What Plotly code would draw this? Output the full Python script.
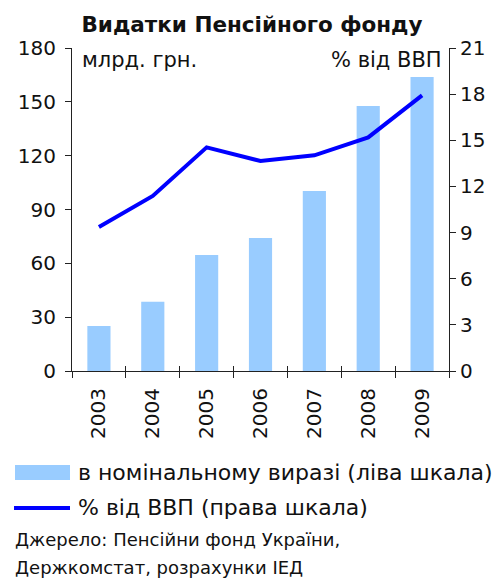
import plotly.graph_objects as go

years = ["2003", "2004", "2005", "2006", "2007", "2008", "2009"]
nominal_bn_uah = [25.1, 38.6, 64.7, 74.1, 100.3, 147.7, 163.9]
share_of_gdp = [9.36, 11.38, 14.54, 13.65, 14.02, 15.19, 17.92]

left_ticks = [0, 30, 60, 90, 120, 150, 180]
right_ticks = [0, 3, 6, 9, 12, 15, 18, 21]

FONT = "DejaVu Sans"
BAR_COLOR = "#99CCFF"
LINE_COLOR = "#0000FF"
AXIS_COLOR = "#222222"
TEXT_COLOR = "#111111"

fig = go.Figure()

fig.add_trace(go.Bar(
    x=years, y=nominal_bn_uah, name="в номінальному виразі (ліва шкала)",
    marker=dict(color=BAR_COLOR, line=dict(width=0)),
    width=0.43, xaxis="x", yaxis="y", showlegend=False,
))

fig.add_trace(go.Scatter(
    x=years, y=share_of_gdp, name="% від ВВП (права шкала)",
    mode="lines", line=dict(color=LINE_COLOR, width=4),
    xaxis="x2", yaxis="y2", showlegend=False,
))

cat_range = [-0.5, len(years) - 0.5]

fig.update_layout(
    width=498, height=580,
    margin=dict(l=72, r=49, t=48, b=209),
    paper_bgcolor="white", plot_bgcolor="white",
    font=dict(family=FONT, size=20, color=TEXT_COLOR),
    title=dict(text="<b>Видатки Пенсійного фонду</b>", xref="container", x=0.506,
               xanchor="center", yref="container", y=0.958, yanchor="middle",
               font=dict(family=FONT, size=21.5, color=TEXT_COLOR)),
    xaxis=dict(type="category", categoryorder="array", categoryarray=years,
               range=cat_range, showline=True, linecolor=AXIS_COLOR, linewidth=1,
               ticks="outside", tickson="boundaries", ticklen=6, tickcolor=AXIS_COLOR,
               tickangle=-90, ticklabelstandoff=8, showgrid=False, zeroline=False,
               tickfont=dict(family=FONT, size=20)),
    xaxis2=dict(type="category", categoryorder="array", categoryarray=years,
                range=cat_range, overlaying="x", side="bottom", showline=False,
                ticks="inside", tickson="boundaries", ticklen=5, tickcolor=AXIS_COLOR,
                showticklabels=False, showgrid=False, zeroline=False),
    yaxis=dict(range=[0, 180], tickvals=left_ticks, showline=True, linecolor=AXIS_COLOR,
               linewidth=1, ticks="outside", ticklen=6, tickcolor=AXIS_COLOR,
               ticklabelstandoff=5, showgrid=False, zeroline=False,
               tickfont=dict(family=FONT, size=20)),
    yaxis2=dict(range=[0, 21], tickvals=right_ticks, overlaying="y", side="right",
                showline=True, linecolor=AXIS_COLOR, linewidth=1, ticks="outside",
                ticklen=6, tickcolor=AXIS_COLOR, showgrid=False, zeroline=False,
                tickfont=dict(family=FONT, size=20)),
)

# Unit labels inside the plot area
fig.add_annotation(text="млрд. грн.", xref="paper", yref="paper", x=0.022, y=0.963,
                   xanchor="left", yanchor="middle", showarrow=False,
                   font=dict(family=FONT, size=21, color=TEXT_COLOR))
fig.add_annotation(text="% від ВВП", xref="paper", yref="paper", x=0.988, y=0.963,
                   xanchor="right", yanchor="middle", showarrow=False,
                   font=dict(family=FONT, size=21, color=TEXT_COLOR))

# Legend drawn below the chart
fig.add_shape(type="rect", xref="paper", yref="paper",
              x0=-0.1512, x1=-0.0053, y0=-0.3375, y1=-0.291,
              fillcolor=BAR_COLOR, line=dict(width=0))
fig.add_annotation(text="в номінальному виразі (ліва шкала)", xref="paper", yref="paper",
                   x=0.010, y=-0.3127, xanchor="left", yanchor="middle", showarrow=False,
                   font=dict(family=FONT, size=22, color=TEXT_COLOR))
fig.add_shape(type="line", xref="paper", yref="paper",
              x0=-0.1538, x1=-0.0053, y0=-0.4241, y1=-0.4241,
              line=dict(color=LINE_COLOR, width=4))
fig.add_annotation(text="% від ВВП (права шкала)", xref="paper", yref="paper",
                   x=0.010, y=-0.4241, xanchor="left", yanchor="middle", showarrow=False,
                   font=dict(family=FONT, size=22, color=TEXT_COLOR))

# Source note
source_lines = ["Джерело: Пенсійни фонд України,", "Держкомстат, розрахунки IЕД"]
for line_text, y_pos in zip(source_lines, [-0.523, -0.607]):
    fig.add_annotation(text=line_text, xref="paper", yref="paper", x=-0.156, y=y_pos,
                       xanchor="left", yanchor="middle", showarrow=False,
                       font=dict(family=FONT, size=18, color=TEXT_COLOR))

fig.write_html("out.html")
